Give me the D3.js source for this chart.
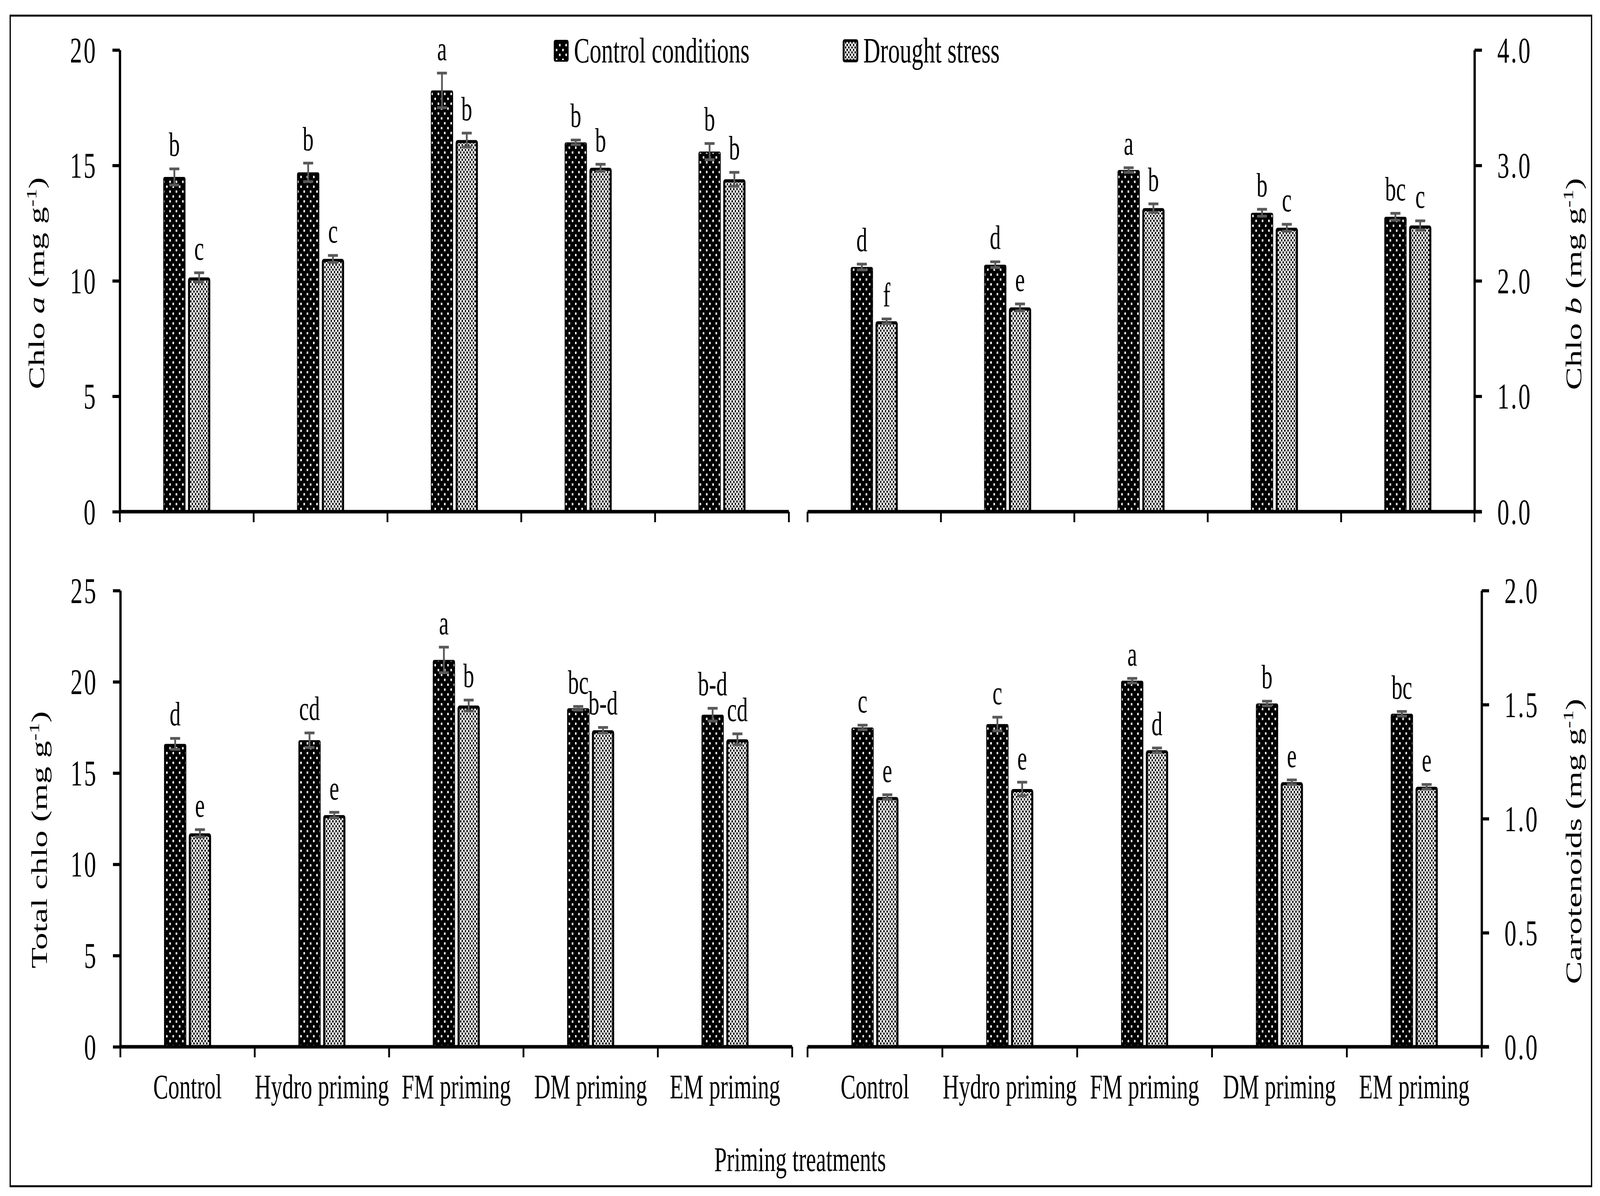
<!DOCTYPE html>
<html><head><meta charset="utf-8">
<script src="https://cdn.jsdelivr.net/npm/d3@7"></script>
<style>html,body{margin:0;padding:0;background:#fff;overflow:hidden;width:100%;height:100%;} svg{display:block;width:100vw;height:100vh;} text{font-family:"Liberation Serif","Times New Roman",serif;fill:#000;}</style>
</head><body>
<script>
const categories = ["Control","Hydro priming","FM priming","DM priming","EM priming"];
const seriesNames = ["Control conditions","Drought stress"];

const chloA_control = [14.5, 14.7, 18.25, 16.0, 15.6];
const chloA_drought = [10.15, 10.95, 16.1, 14.9, 14.4];
const chloA_seC = [0.35, 0.4, 0.75, 0.1, 0.35];
const chloA_seD = [0.2, 0.15, 0.3, 0.15, 0.3];
const chloA_letC = ["b","b","a","b","b"];
const chloA_letD = ["c","c","b","b","b"];

const chloB_control = [2.12, 2.14, 2.96, 2.59, 2.555];
const chloB_drought = [1.65, 1.77, 2.63, 2.46, 2.48];
const chloB_seC = [0.025, 0.025, 0.02, 0.03, 0.03];
const chloB_seD = [0.02, 0.03, 0.037, 0.03, 0.04];
const chloB_letC = ["d","d","a","b","bc"];
const chloB_letD = ["f","e","b","c","c"];

const total_control = [16.6, 16.8, 21.2, 18.55, 18.2];
const total_drought = [11.7, 12.7, 18.7, 17.35, 16.85];
const total_seC = [0.3, 0.4, 0.7, 0.1, 0.35];
const total_seD = [0.2, 0.15, 0.3, 0.15, 0.3];
const total_letC = ["d","cd","a","bc","b-d"];
const total_letD = ["e","e","b","b-d","cd"];

const carot_control = [1.40, 1.415, 1.605, 1.505, 1.46];
const carot_drought = [1.095, 1.13, 1.30, 1.16, 1.14];
const carot_seC = [0.01, 0.03, 0.01, 0.01, 0.01];
const carot_seD = [0.01, 0.03, 0.01, 0.01, 0.01];
const carot_letC = ["c","c","a","b","bc"];
const carot_letD = ["e","e","d","e","e"];

const ticksA = [0,5,10,15,20];
const ticksB = [0,1,2,3,4];
const ticksTotal = [0,5,10,15,20,25];
const ticksCarot = [0,0.5,1,1.5,2];

const W = 6261, H = 3062;
const svg = d3.select("body").append("svg")
  .attr("viewBox", `0 0 ${W} ${H}`).attr("preserveAspectRatio","none");
svg.append("rect").attr("width", W).attr("height", H).attr("fill", "#fff");

const defs = svg.append("defs");
const pc = defs.append("pattern").attr("id","patC").attr("patternUnits","userSpaceOnUse").attr("width",25).attr("height",25);
pc.append("rect").attr("width",25).attr("height",25).attr("fill","#000");
pc.append("rect").attr("x",0).attr("y",0).attr("width",6).attr("height",6).attr("fill","#fff");
pc.append("rect").attr("x",12.5).attr("y",12.5).attr("width",6).attr("height",6).attr("fill","#fff");
const pd = defs.append("pattern").attr("id","patD").attr("patternUnits","userSpaceOnUse").attr("width",12.5).attr("height",12.5);
pd.append("rect").attr("width",12.5).attr("height",12.5).attr("fill","#fff");
pd.append("rect").attr("x",0).attr("y",0).attr("width",5.5).attr("height",5.5).attr("fill","#000");
pd.append("rect").attr("x",6.25).attr("y",6.25).attr("width",5.5).attr("height",5.5).attr("fill","#000");

svg.append("rect").attr("x",40).attr("y",40).attr("width",6188).attr("height",2997)
  .attr("fill","none").attr("stroke","#000").attr("stroke-width",5);

const panels = [
  {x0:469, x1:3087, yB:1310, yT:128, side:"left", dom:[0,20], ticks:ticksA, fmt:d3.format("d"),
   c:chloA_control, d:chloA_drought, sc:chloA_seC, sd:chloA_seD, lc:chloA_letC, ld:chloA_letD, labels:false,
   title:["Chlo ", "a", " (mg g", "-1", ")"], tx:173, ty:725},
  {x0:3160, x1:5770, yB:1310, yT:128, side:"right", dom:[0,4], ticks:ticksB, fmt:d3.format(".1f"),
   c:chloB_control, d:chloB_drought, sc:chloB_seC, sd:chloB_seD, lc:chloB_letC, ld:chloB_letD, labels:false,
   title:["Chlo ", "b", " (mg g", "-1", ")"], tx:6187, ty:727},
  {x0:471, x1:3100, yB:2680, yT:1512, side:"left", dom:[0,25], ticks:ticksTotal, fmt:d3.format("d"),
   c:total_control, d:total_drought, sc:total_seC, sd:total_seD, lc:total_letC, ld:total_letD, labels:true,
   title:["Total chlo (mg g", null, "", "-1", ")"], tx:183, ty:2150},
  {x0:3160, x1:5798, yB:2680, yT:1512, side:"right", dom:[0,2], ticks:ticksCarot, fmt:d3.format(".1f"),
   c:carot_control, d:carot_drought, sc:carot_seC, sd:carot_seD, lc:carot_letC, ld:carot_letD, labels:true,
   title:["Carotenoids (mg g", null, "", "-1", ")"], tx:6187, ty:2154}
];

const BAR = 87, GAP = 10;
panels.forEach(p => {
  const g = svg.append("g");
  const x = d3.scaleBand().domain(categories).range([p.x0, p.x1]).paddingInner(0).paddingOuter(0);
  const pair = 2*BAR + GAP;
  const xs = d3.scaleBand().domain(seriesNames).range([0, pair]).paddingInner(GAP/(BAR+GAP)).paddingOuter(0);
  const y = d3.scaleLinear().domain(p.dom).range([p.yB, p.yT]);
  const off = (x.bandwidth() - pair)/2;

  const rows = [];
  categories.forEach((cat,i) => {
    rows.push({cat, s:seriesNames[0], v:p.c[i], se:p.sc[i], let:p.lc[i]});
    rows.push({cat, s:seriesNames[1], v:p.d[i], se:p.sd[i], let:p.ld[i]});
  });
  rows.forEach(r => {
    const bx = x(r.cat) + off + xs(r.s);
    const isC = r.s === seriesNames[0];
    const sw = isC ? 3 : 8;
    g.append("rect")
      .attr("x", bx + sw/2).attr("y", y(r.v) + sw/2)
      .attr("width", xs.bandwidth() - sw).attr("height", y(p.dom[0]) - y(r.v) - sw/2)
      .attr("rx", 4).attr("ry", 4)
      .attr("fill", isC ? "url(#patC)" : "url(#patD)")
      .attr("stroke", "#000").attr("stroke-width", sw);
    const cx = bx + xs.bandwidth()/2;
    const eT = y(r.v + r.se), eB = y(r.v - r.se);
    g.append("line").attr("x1",cx).attr("x2",cx).attr("y1",eT).attr("y2",eB).attr("stroke","#595959").attr("stroke-width",7);
    g.append("line").attr("x1",cx-19.5).attr("x2",cx+19.5).attr("y1",eT).attr("y2",eT).attr("stroke","#595959").attr("stroke-width",7);
    g.append("line").attr("x1",cx-19.5).attr("x2",cx+19.5).attr("y1",eB).attr("y2",eB).attr("stroke","#595959").attr("stroke-width",7);
    g.append("text").attr("x",cx).attr("y",eT - 33).attr("text-anchor","middle").attr("font-size",86).text(r.let);
  });

  g.append("line").attr("x1",p.x0).attr("x2",p.x1 + (p.side==="right"?28:0)).attr("y1",p.yB).attr("y2",p.yB)
    .attr("stroke","#000").attr("stroke-width",9);
  const bounds = categories.map(c => x(c)).concat([p.x1]);
  bounds.forEach(b => {
    g.append("line").attr("x1",b).attr("x2",b).attr("y1",p.yB).attr("y2",p.yB+27).attr("stroke","#000").attr("stroke-width",7);
  });

  const ax = (p.side === "left" ? d3.axisLeft(y) : d3.axisRight(y))
    .tickValues(p.ticks).tickFormat(p.fmt).tickSize(29).tickSizeOuter(0).tickPadding(60);
  const ag = g.append("g").attr("transform", `translate(${p.side==="left"?p.x0:p.x1},0)`).call(ax);
  ag.select(".domain").attr("stroke","#000").attr("stroke-width",9);
  ag.selectAll(".tick line").attr("stroke","#000").attr("stroke-width",8);
  ag.selectAll(".tick text").attr("font-size",94).attr("font-family",'"Liberation Serif",serif').attr("fill","#000")
    .attr("dy","0.33em").style("letter-spacing","6px");

  if (p.labels) {
    const xa = d3.axisBottom(x).tickSize(0).tickPadding(0);
    const xg = g.append("g").attr("transform",`translate(0,${p.yB})`).call(xa);
    xg.select(".domain").remove();
    xg.selectAll(".tick text").attr("y",132).attr("dy",0).attr("font-size",88)
      .attr("font-family",'"Liberation Serif",serif').attr("fill","#000");
  }

  const t = g.append("text").attr("transform",`translate(${p.tx},${p.ty}) rotate(-90)`)
    .attr("text-anchor","middle").attr("font-size",88);
  t.append("tspan").text(p.title[0]);
  if (p.title[1]) {
    t.append("tspan").attr("font-style","italic").text(p.title[1]);
    t.append("tspan").text(p.title[2]);
  }
  t.append("tspan").attr("font-size",56).attr("baseline-shift","super").text(p.title[3]);
  t.append("tspan").text(p.title[4]);
});

svg.append("text").attr("x",3131).attr("y",2998).attr("text-anchor","middle").attr("font-size",88).text("Priming treatments");

const legX = [2166, 3298];
seriesNames.forEach((s,i) => {
  const isC = i === 0;
  svg.append("rect").attr("x",legX[i]+3).attr("y",104).attr("width",54).attr("height",52).attr("rx",4)
    .attr("fill", isC ? "url(#patC)" : "url(#patD)").attr("stroke","#000").attr("stroke-width", isC?4:7);
  svg.append("text").attr("x",legX[i]+80).attr("y",160).attr("font-size",92).text(s);
});
</script>
</body></html>
